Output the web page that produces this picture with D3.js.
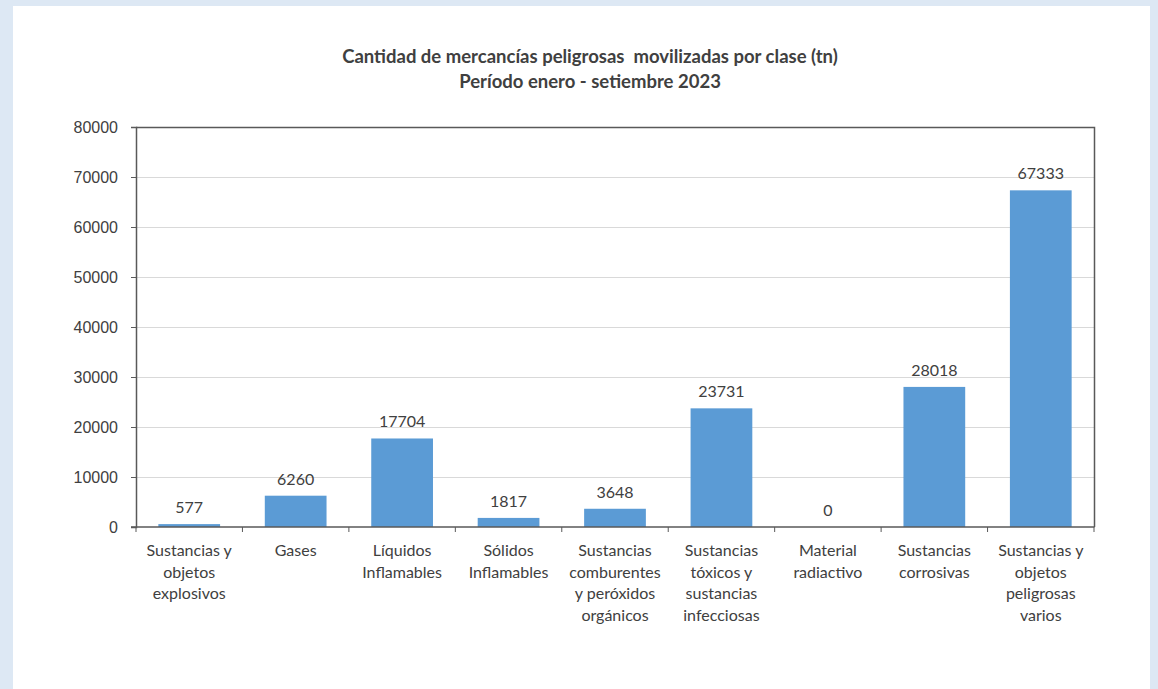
<!DOCTYPE html>
<html>
<head>
<script src="https://d3js.org/d3.v7.min.js"></script>
<title>Mercancías peligrosas por clase</title>
<style>
  body { margin: 0; background: #dde8f4; }
  svg { display: block; font-family: Lato, "Open Sans", sans-serif; }
  .grid line { stroke: #d9d9d9; }
  .axis text { fill: #404040; font-size: 16px; }
  .axis path, .axis line { stroke: #595959; }
</style>
</head>
<body>
<div id="chart"></div>
<script>
// data
var categories = [
  ["Sustancias y", "objetos", "explosivos"],
  ["Gases"],
  ["Líquidos", "Inflamables"],
  ["Sólidos", "Inflamables"],
  ["Sustancias", "comburentes", "y peróxidos", "orgánicos"],
  ["Sustancias", "tóxicos y", "sustancias", "infecciosas"],
  ["Material", "radiactivo"],
  ["Sustancias", "corrosivas"],
  ["Sustancias y", "objetos", "peligrosas", "varios"]
];
var values = [577, 6260, 17704, 1817, 3648, 23731, 0, 28018, 67333];
var yTicks = [0, 10000, 20000, 30000, 40000, 50000, 60000, 70000, 80000];
var titleLines = ["Cantidad de mercancías peligrosas  movilizadas por clase (tn)", "Período enero - setiembre 2023"];

var W = 1158, H = 689;
var pLeft = 136, pRight = 1094, pTop = 127, pBottom = 527;

var svg = d3.select("#chart").append("svg")
    .attr("width", W)
    .attr("height", H);

// white panel
svg.append("rect")
    .attr("x", 13).attr("y", 6)
    .attr("width", 1137).attr("height", H - 6)
    .attr("fill", "#ffffff");

var keys = categories.map(function(d, i) { return i; });

var x = d3.scaleBand()
    .domain(keys)
    .range([pLeft, pRight])
    .paddingInner(0.42)
    .paddingOuter(0.21);

var y = d3.scaleLinear()
    .domain([0, 80000])
    .range([pBottom, pTop]);

// gridlines
svg.append("g")
    .attr("class", "grid")
    .selectAll("line")
    .data(yTicks.slice(1))
    .enter().append("line")
    .attr("x1", pLeft).attr("x2", pRight)
    .attr("y1", function(d) { return y(d) + 0.5; })
    .attr("y2", function(d) { return y(d) + 0.5; });

// bars
svg.selectAll(".bar")
    .data(values)
    .enter().append("rect")
    .attr("class", "bar")
    .attr("x", function(d, i) { return x(i); })
    .attr("y", function(d) { return y(d); })
    .attr("width", x.bandwidth())
    .attr("height", function(d) { return pBottom - y(d); })
    .attr("fill", "#5b9bd5");

// value labels
svg.selectAll(".val")
    .data(values)
    .enter().append("text")
    .attr("class", "val")
    .attr("x", function(d, i) { return x(i) + x.bandwidth() / 2; })
    .attr("y", function(d) { return y(d) - 11; })
    .attr("text-anchor", "middle")
    .attr("fill", "#404040")
    .style("font-size", "16px")
    .text(function(d) { return d; });

// plot frame (top and right)
svg.append("path")
    .attr("d", "M" + pLeft + "," + (pTop + 0.5) + "H" + (pRight + 0.5) + "V" + pBottom)
    .attr("fill", "none")
    .attr("stroke", "#595959")
    .attr("stroke-width", 1.5);

// y axis
var yAxis = svg.append("g")
    .attr("class", "axis")
    .attr("transform", "translate(" + pLeft + ",0)")
    .call(d3.axisLeft(y).tickValues(yTicks).tickSize(5).tickPadding(13).tickFormat(d3.format("d")));
yAxis.select(".domain").attr("stroke-width", 1.5);

// x axis with ticks at category boundaries
var xAxis = svg.append("g")
    .attr("class", "axis")
    .attr("transform", "translate(0," + pBottom + ")");
xAxis.append("line")
    .attr("x1", pLeft - 5).attr("x2", pRight + 0.5)
    .attr("stroke-width", 1.5);
var step = x.step();
var x0 = x(0) - step * x.paddingOuter();
xAxis.selectAll(".tk")
    .data(d3.range(categories.length + 1))
    .enter().append("line")
    .attr("class", "tk")
    .attr("x1", function(i) { return x0 + i * step; })
    .attr("x2", function(i) { return x0 + i * step; })
    .attr("y1", 0).attr("y2", 5);

var labels = xAxis.selectAll(".cat")
    .data(categories)
    .enter().append("text")
    .attr("class", "cat")
    .attr("text-anchor", "middle")
    .attr("x", function(d, i) { return x(i) + x.bandwidth() / 2; })
    .attr("y", 29);
labels.selectAll("tspan")
    .data(function(d) { return d; })
    .enter().append("tspan")
    .attr("x", function() { return d3.select(this.parentNode).attr("x"); })
    .attr("dy", function(d, j) { return j === 0 ? 0 : 21.6; })
    .text(function(d) { return d; });

// title
svg.append("g").selectAll("text")
    .data(titleLines)
    .enter().append("text")
    .attr("x", 590)
    .attr("y", function(d, i) { return 63 + i * 25; })
    .attr("text-anchor", "middle")
    .attr("fill", "#404040")
    .style("font-size", "18.5px")
    .style("font-weight", "bold")
    .style("white-space", "pre")
    .text(function(d) { return d; });
</script>
</body>
</html>
